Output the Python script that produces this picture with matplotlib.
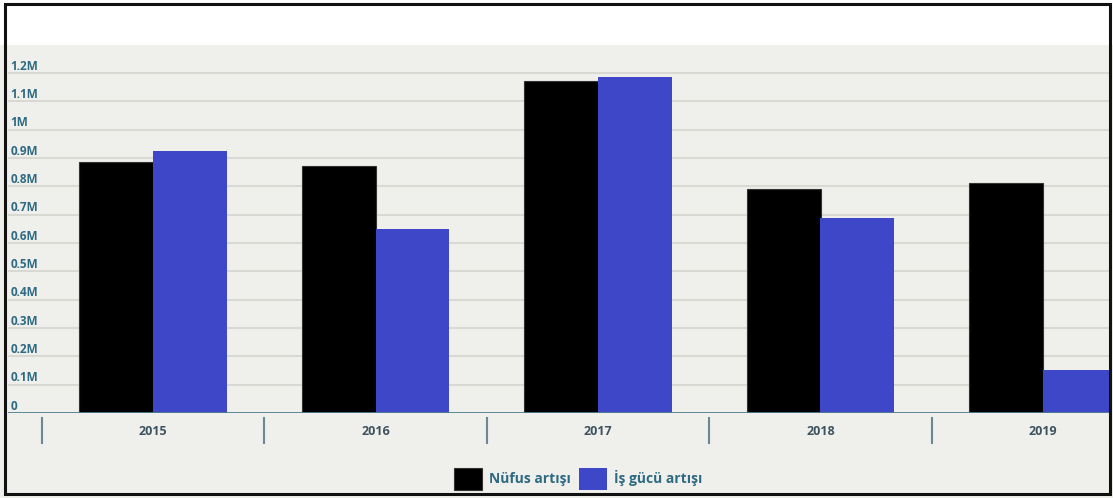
import numpy as np
import matplotlib.pyplot as plt
from matplotlib.patches import Rectangle
from matplotlib.transforms import blended_transform_factory

# ─────────────────────────────────────────────────────────────────────────────
# DATA (millions)
# ─────────────────────────────────────────────────────────────────────────────
years = ['2015', '2016', '2017', '2018', '2019']
nufus_artisi = [0.885, 0.873, 1.173, 0.790, 0.813]
isgucu_artisi = [0.926, 0.650, 1.187, 0.689, 0.152]
tick_values = [0, 0.1, 0.2, 0.3, 0.4, 0.5, 0.6, 0.7, 0.8, 0.9, 1.0, 1.1, 1.2]
tick_labels = ['0', '0.1M', '0.2M', '0.3M', '0.4M', '0.5M', '0.6M',
               '0.7M', '0.8M', '0.9M', '1M', '1.1M', '1.2M']
legend_labels = ['Nüfus artışı', 'İş gücü artışı']

BG = '#efefeb'
BLACK = '#000000'
BLUE = '#3f47c9'
TEAL = '#2e6a82'
W, H = 1113, 498

plt.rcParams['font.family'] = ['Open Sans', 'DejaVu Sans']

fig = plt.figure(figsize=(W / 100, H / 100), dpi=100, facecolor=BG)

# white strip along the top of the screenshot
fig.patches.append(Rectangle((0, 1 - 45 / H), 1, 45 / H, transform=fig.transFigure,
                             facecolor='white', edgecolor='none', zorder=0))

ax_left, ax_right = 8, 1111
ax_top, ax_base = 45, 413
ax = fig.add_axes([ax_left / W, 1 - ax_base / H, (ax_right - ax_left) / W,
                   (ax_base - ax_top) / H])
ax.set_facecolor(BG)
ax.patch.set_alpha(0)

px_per_cat = 222.5
x0_px = 153.0
ax.set_xlim((ax_left - x0_px) / px_per_cat, (ax_right - x0_px) / px_per_cat)
ax.set_ylim(0, (ax_base - ax_top) / 283.3)

x = np.arange(len(years))
bw = 0.332
ax.bar(x - bw / 2, nufus_artisi, bw, color=BLACK, edgecolor='#333333', lw=0.8,
       zorder=3, label=legend_labels[0])
ax.bar(x + bw / 2, isgucu_artisi, bw, color=BLUE, edgecolor='none',
       zorder=3, label=legend_labels[1])

# gridlines + inside labels
for v, lab in zip(tick_values, tick_labels):
    if v > 0:
        ax.axhline(v, color='#d9d9d4', lw=1.5, zorder=1)
    ax.text(0.002, v + 0.024, lab, transform=blended_transform_factory(ax.transAxes, ax.transData),
            ha='left', va='center', fontsize=8.5, fontweight='bold', color=TEAL, zorder=4)
ax.axhline(0, color='#4d7f8e', lw=2, zorder=4)

for s in ax.spines.values():
    s.set_visible(False)
ax.set_xticks([])
ax.set_yticks([])

# category dividers and year labels below the baseline
trans = blended_transform_factory(ax.transData, ax.transAxes)
base_h = ax_base - ax_top
for i, yr in enumerate(years):
    xd = i - 0.5
    ax.plot([xd, xd], [-5 / base_h, -30 / base_h], color='#6e8794', lw=1.5,
            transform=trans, clip_on=False)
    ax.text(i, -18 / base_h, yr, transform=trans, ha='center', va='center',
            fontsize=9, fontweight='bold', color='#3d5360')

# legend
handles, labels = ax.get_legend_handles_labels()
fig.legend(handles, labels, loc='center', bbox_to_anchor=(578 / W, 1 - 479 / H),
           ncol=2, frameon=False, handlelength=2.0, handleheight=2.0,
           columnspacing=0.6, handletextpad=0.5, labelcolor=TEAL,
           prop={'weight': 'bold', 'size': 10})

# screenshot frame
fig.patches.append(Rectangle((5 / W, 4 / H), (1110 - 5) / W, (494 - 4) / H,
                             transform=fig.transFigure, fill=False,
                             edgecolor='#111111', lw=2.2, zorder=10))

plt.savefig('out.png', dpi=100, facecolor=BG)
plt.close(fig)
